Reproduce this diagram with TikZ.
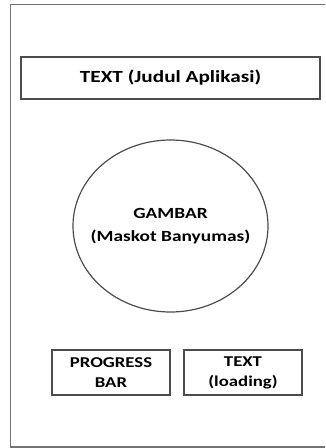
\documentclass[tikz,border=0pt]{standalone}
\usepackage{fontspec}
\setmainfont{Carlito}[FakeStretch=1.25]
\usetikzlibrary{shapes.geometric}
\begin{document}
\begin{tikzpicture}[x=1pt,y=-1pt,
  line/.style={draw=black!70,line width=1.2pt},
  box/.style={line,rectangle,inner sep=0pt,font=\bfseries,align=center},
  lbl/.style={font=\bfseries,align=center,inner sep=0pt}]
  \useasboundingbox (0,0) rectangle (325,448);
  % screen frame (right side runs off the page)
  \begin{scope}
    \clip (0,0) rectangle (325,448);
    \draw[draw=black!55,line width=1.6pt] (10.5,4.5) rectangle (340,447);
  \end{scope}
  % application title bar
  \node[box,minimum width=299pt,minimum height=42pt,
        font=\bfseries\fontsize{17}{20}\selectfont] (title) at (170.5,78) {TEXT (Judul Aplikasi)};
  % mascot picture
  \node[line,ellipse,minimum width=195pt,minimum height=172pt,inner sep=0pt] (pic) at (170.5,226) {};
  \node[lbl,font=\bfseries\fontsize{15.5}{23}\selectfont] (pictext) at (pic.center) {GAMBAR\\(Maskot Banyumas)};
  % progress bar and loading text
  \node[box,minimum width=118pt,minimum height=45pt,
        font=\bfseries\fontsize{15}{20}\selectfont] (progress) at (111,372.5) {PROGRESS\\BAR};
  \node[box,minimum width=118pt,minimum height=45pt,
        font=\bfseries\fontsize{15}{20}\selectfont] (loading) at (243,372.5) {TEXT\\(loading)};
\end{tikzpicture}
\end{document}
